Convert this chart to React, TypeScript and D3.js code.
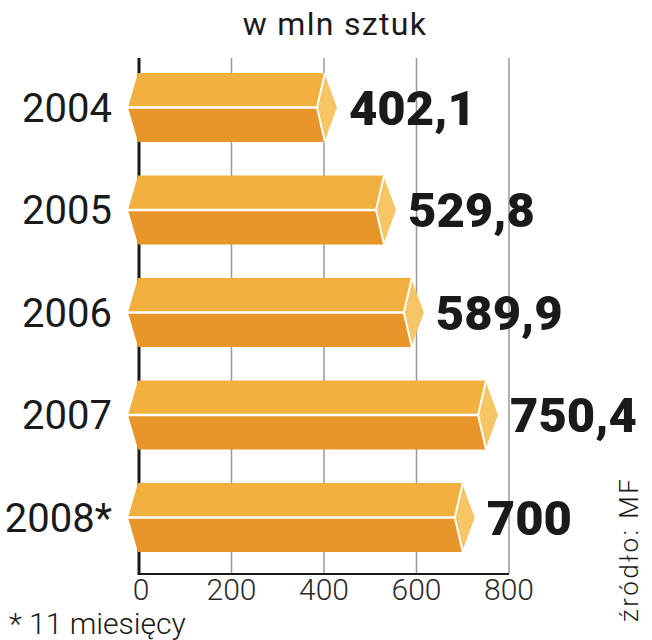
import React from "react";
import * as d3 from "d3";

const years = ["2004", "2005", "2006", "2007", "2008*"];
const values = [402.1, 529.8, 589.9, 750.4, 700];
const valueLabels = ["402,1", "529,8", "589,9", "750,4", "700"];
const ticks = [0, 200, 400, 600, 800];
const title = "w mln sztuk";
const footnote = "* 11 miesięcy";
const source = "źródło: MF";

const W = 652;
const H = 640;

export default function App() {
  const x = d3.scaleLinear().domain([0, 800]).range([139, 509]);
  const y = d3.scalePoint<string>().domain(years).range([107.5, 517.5]);
  const bh = 69;
  const top0 = 58;
  const axisY = 574;
  const font = "Roboto, 'Liberation Sans', sans-serif";
  const topC = "#F2B03E";
  const botC = "#E8952A";
  const tipC = "#F5C566";

  return (
    <svg width={W} height={H} style={{ position: "absolute", left: 0, top: 0 }}>
      <rect width={W} height={H} fill="#fff" />
      <text x={335} y={35} textAnchor="middle" fontFamily={font} fontSize={32} letterSpacing={1.3} fill="#1a1a1a">
        {title}
      </text>
      {ticks.slice(1).map((t) => (
        <line key={t} x1={x(t)} x2={x(t)} y1={top0} y2={axisY} stroke="#9a9a9a" strokeWidth={1.5} />
      ))}
      <line x1={x(0)} x2={x(0)} y1={top0} y2={axisY + 1} stroke="#1a1a1a" strokeWidth={3} />
      <line x1={x(0)} x2={x(800)} y1={axisY} y2={axisY} stroke="#1a1a1a" strokeWidth={2} />
      {years.map((yr, i) => {
        const c = y(yr) as number;
        const t = c - bh / 2;
        const b = c + bh / 2;
        const xv = x(values[i]);
        const xl = x(0) - 1;
        const tip = xv + 12;
        const seam = xv - 8;
        return (
          <g key={yr}>
            <polygon
              points={`${xl},${t} ${xv},${t} ${seam},${c} ${xl - 10},${c}`}
              fill={topC}
            />
            <polygon
              points={`${xl - 10},${c} ${seam},${c} ${xv},${b} ${xl},${b}`}
              fill={botC}
            />
            <polygon points={`${xv},${t + 2} ${tip},${c} ${xv},${b - 2} ${seam},${c}`} fill={tipC} />
            <polyline
              points={`${xv},${t} ${seam},${c} ${xv},${b}`}
              fill="none"
              stroke="#fff"
              strokeWidth={2}
            />
            <line x1={xl - 10} x2={seam} y1={c} y2={c} stroke="#fff" strokeWidth={2.5} />
            <text
              x={112}
              y={c + 14}
              textAnchor="end"
              fontFamily={font}
              fontSize={40}
              fill="#1a1a1a"
            >
              {yr}
            </text>
            <text
              x={tip + 12}
              y={c + 17}
              fontFamily={font}
              fontWeight={900}
              fontSize={49}
              fill="#1a1a1a"
            >
              {valueLabels[i]}
            </text>
          </g>
        );
      })}
      {ticks.map((t) => (
        <text
          key={t}
          x={x(t) + (t === 0 ? 2 : 0)}
          y={600}
          textAnchor="middle"
          fontFamily={font}
          fontWeight={300}
          fontSize={30}
          fill="#2a2a2a"
        >
          {t}
        </text>
      ))}
      <text x={9} y={634} fontFamily={font} fontWeight={300} fontSize={30} fill="#1a1a1a">
        {footnote}
      </text>
      <text
        transform={`translate(638,622) rotate(-90)`}
        fontFamily={font}
        fontWeight={300}
        fontSize={26}
        letterSpacing={2.5}
        fill="#1a1a1a"
      >
        {source}
      </text>
    </svg>
  );
}
